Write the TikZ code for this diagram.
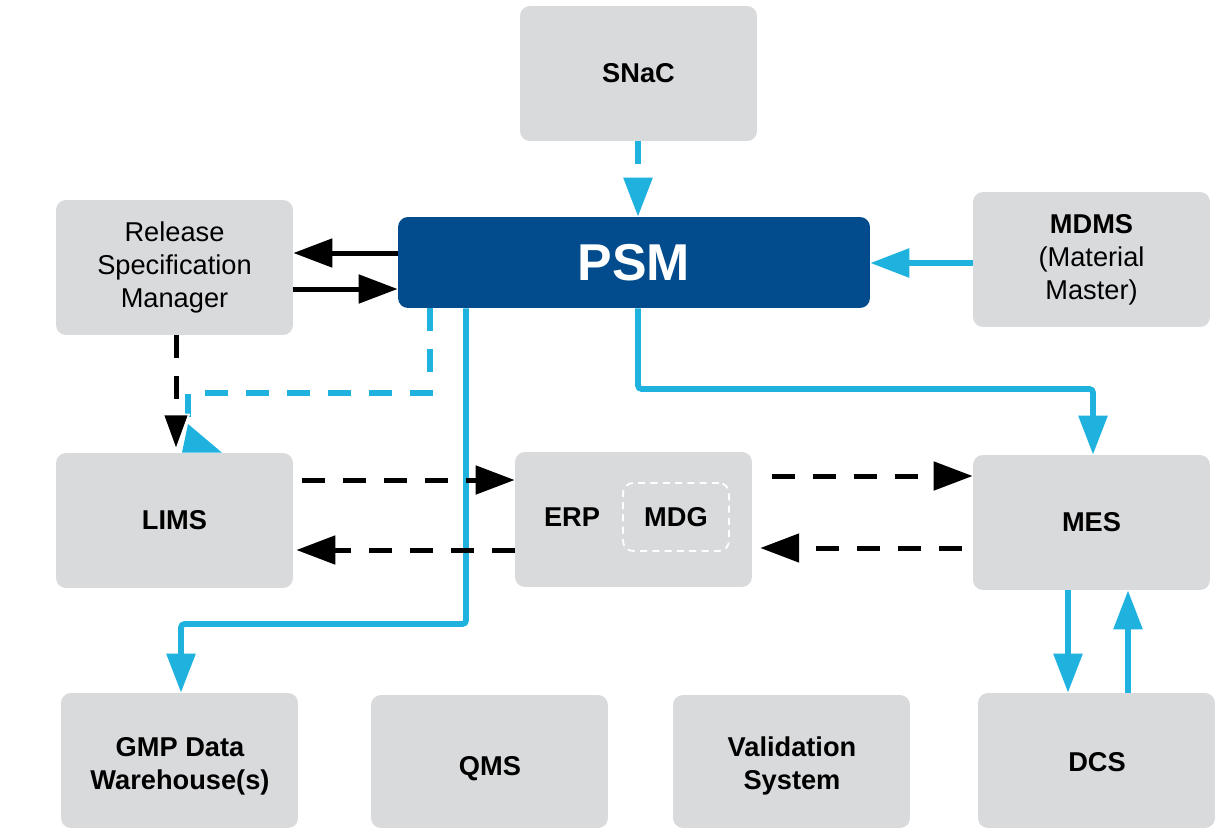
\documentclass[tikz,border=0pt]{standalone}
\usepackage{fontspec}
\setmainfont{Liberation Sans}
\usetikzlibrary{arrows.meta}
\definecolor{boxgray}{HTML}{D9DADC}
\definecolor{psmblue}{HTML}{024C8E}
\definecolor{linkcyan}{HTML}{1FB2DF}
\tikzset{
  box/.style={rounded corners=0.2cm, fill=boxgray, minimum width=4.74cm,
    minimum height=2.7cm, align=center, inner sep=0pt,
    font=\fontsize{15.5}{18.7}\selectfont},
  boxtext/.style={align=center, inner sep=0pt,
    font=\fontsize{15.5}{18.7}\selectfont\bfseries},
  tip/.style={-{Triangle[length=0.78cm, width=0.56cm]}},
  blkline/.style={draw=black, line width=0.1cm, tip},
  cyanline/.style={draw=linkcyan, line width=0.115cm, tip},
  dashpat/.style={dash pattern=on 0.46cm off 0.36cm},
}
\begin{document}
\begin{tikzpicture}[x=0.02cm, y=-0.02cm]
\useasboundingbox (0,0) rectangle (1218,829);

% system boxes
\node[box] (snac) at (638.5,73.5) {\bfseries SNaC};
\node[box] (rsm) at (174.5,267.5) {Release\\Specification\\Manager};
\node[box, fill=psmblue, text=white, minimum width=9.44cm, minimum height=1.82cm,
  font=\fontsize{29.5}{32}\selectfont\bfseries] (psm) at (634,262.5) {PSM};
\node[box] (mdms) at (1091.5,259.5) {\textbf{MDMS}\\(Material\\Master)};
\node[box] (lims) at (174.5,520.5) {\bfseries LIMS};
\node[box] (erp) at (633.5,519.5) {};
\node[boxtext] (erplabel) at (572,517) {ERP};
\node[draw=white, line width=1pt, dash pattern=on 4pt off 3pt, rounded corners=0.2cm,
  minimum width=2.12cm, minimum height=1.36cm, inner sep=0pt,
  font=\fontsize{15.5}{18.7}\selectfont\bfseries] (mdg) at (676,517) {MDG};
\node[box] (mes) at (1091.5,522.5) {\bfseries MES};

% bottom row: labels sit a little below the box centres
\node[box] (gmp) at (179.5,760.5) {};
\node[boxtext] (gmplabel) at (180,766) {GMP Data\\Warehouse(s)};
\node[box, minimum height=2.66cm] (qms) at (489.5,761.5) {};
\node[boxtext] (qmslabel) at (490,769) {QMS};
\node[box, minimum height=2.66cm] (val) at (791.5,761.5) {};
\node[boxtext] (vallabel) at (792,766) {Validation\\System};
\node[box] (dcs) at (1096.5,760.5) {};
\node[boxtext] (dcslabel) at (1097,762.5) {DCS};

% cyan links
\draw[cyanline, dashpat] (638,0 |- snac.south) -- (638,0 |- psm.north);
\draw[cyanline] (mdms.west |- 0,263) -- (psm.east |- 0,263);
\draw[cyanline, rounded corners=2pt] (638,0 |- psm.south) -- (638,389) -- (1093,389) -- (1093,0 |- mes.north);
\draw[cyanline, rounded corners=2pt] (466,0 |- psm.south) -- (466,624) -- (181,624) -- (181,0 |- gmp.north);
\draw[cyanline] (1068,0 |- mes.south) -- (1068,0 |- dcs.north);
\draw[cyanline] (1128,0 |- dcs.north) -- (1128,0 |- mes.south);

% dashed cyan link from PSM to LIMS
\coordinate (limsin) at (188,424);
\draw[draw=linkcyan, line width=0.11cm, dashpat] (430,0 |- psm.south) -- (430,393) -- (188,393) -- (limsin);
\fill[linkcyan] (limsin) -- (182,0 |- lims.north) -- (222,0 |- lims.north) -- cycle;

% black links
\draw[blkline] (psm.west |- 0,253) -- (rsm.east |- 0,253);
\draw[blkline] (rsm.east |- 0,289) -- (psm.west |- 0,289);
\draw[blkline, dashpat, -{Triangle[length=0.78cm, width=0.56cm, fill=black, color=white, line width=1pt]}]
  (176,0 |- rsm.south) -- (176,0 |- lims.north);
\draw[blkline, dashpat, shorten <=5pt] (lims.east |- 0,480) -- (erp.west |- 0,480);
\draw[blkline, dashpat, shorten >=1.7pt] (erp.west |- 0,550) -- (lims.east |- 0,550);
\draw[blkline, dashpat, shorten <=11pt] (erp.east |- 0,476) -- (mes.west |- 0,476);
\draw[blkline, dashpat, shorten <=6pt, shorten >=4.5pt] (mes.west |- 0,548) -- (erp.east |- 0,548);
\end{tikzpicture}
\end{document}
